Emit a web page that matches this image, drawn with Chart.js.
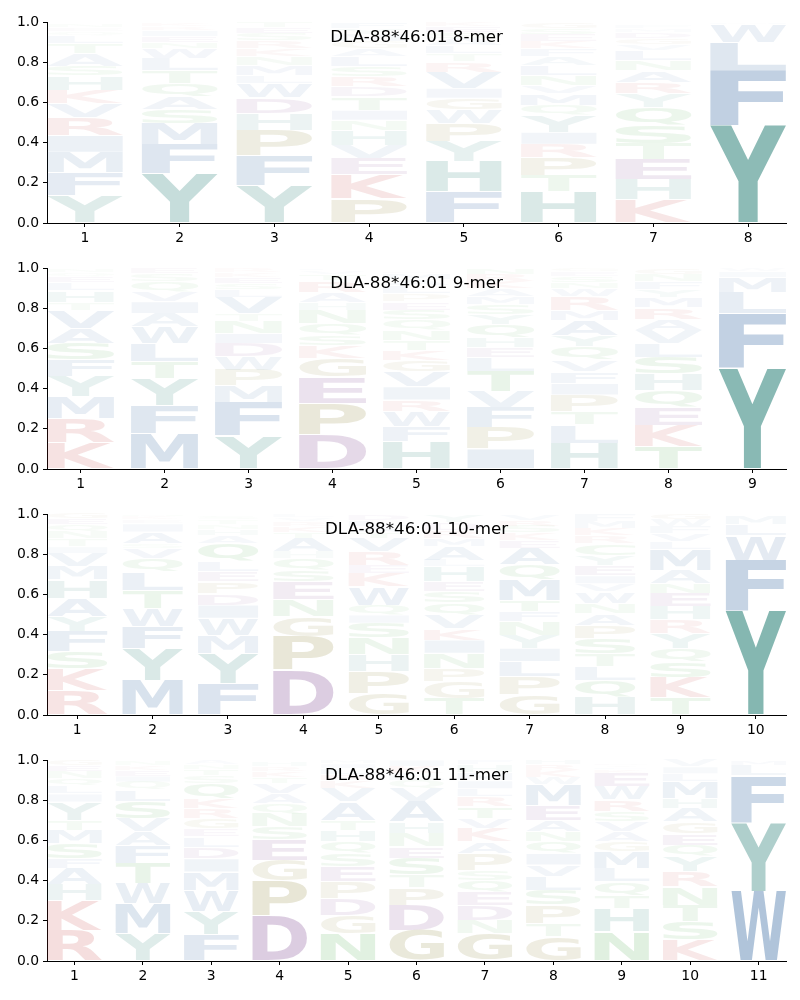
<!DOCTYPE html>
<html>
<head>
<meta charset="utf-8">
<script src="https://cdn.jsdelivr.net/npm/chart.js@4.4.0/dist/chart.umd.min.js"></script>
<style>
  body { margin: 0; background: #fff; width: 800px; height: 1000px; position: relative; overflow: hidden; }
  canvas { position: absolute; left: 0; }
</style>
</head>
<body>
<canvas id="c8" width="800" height="246" style="top:2px"></canvas>
<canvas id="c9" width="800" height="246" style="top:248px"></canvas>
<canvas id="c10" width="800" height="246" style="top:494px"></canvas>
<canvas id="c11" width="800" height="246" style="top:740px"></canvas>
<script>
// letters per position, bottom to top, with their heights (probability)
var ticks8 = [1, 2, 3, 4, 5, 6, 7, 8];
var letters8 = ['YFMIRVKHSATLQEN', 'YFMSAQTLWNEIRK', 'YFPHDWLMNKRSET', 'PKEVHNITDRSLAGMYF',
  'FHYPWGIVRTLASEK', 'HTPRIYQMVNLAFKESG', 'KHETSQYRANLVGDMF', 'YFLWM'];
var heights8 = [
  [.136, .116, .10, .083, .09, .07, .066, .07, .05, .06, .05, .04, .02, .02, .02],
  [.244, .145, .105, .07, .063, .065, .066, .06, .05, .03, .03, .03, .02, .02],
  [.186, .15, .125, .083, .078, .07, .04, .05, .045, .04, .04, .035, .03, .028],
  [.12, .12, .08, .066, .075, .05, .05, .066, .05, .05, .05, .05, .04, .035, .035, .03, .03],
  [.156, .151, .10, .09, .066, .058, .05, .08, .05, .04, .04, .035, .03, .03, .025],
  [.156, .08, .09, .066, .06, .083, .05, .058, .04, .05, .05, .045, .04, .035, .035, .03, .03],
  [.116, .1, .1, .08, .09, .09, .066, .058, .058, .05, .05, .03, .03, .03, .02, .02],
  [.485, .274, .14, .09, .01]
];

var ticks9 = [1, 2, 3, 4, 5, 6, 7, 8, 9];
var letters9 = ['KRMYFSAVTHLEQN', 'MFYTLWAIVQSE', 'YFMPWDINTVLSEKR', 'DPEGKSQNHARTVL',
  'HFWRIVGKTNQSEPLAMD', 'IPFVTLEHQYSMAKRN', 'HLTPIFVQYAMRWNSEG', 'TKEQHSLVARMYFNG', 'YFLMIW'];
var heights9 = [
  [.132, .12, .107, .1, .083, .083, .074, .09, .04, .058, .04, .03, .02, .02],
  [.175, .14, .137, .083, .09, .083, .066, .058, .05, .05, .04, .028],
  [.165, .165, .083, .079, .066, .066, .05, .06, .04, .08, .04, .03, .03, .025, .021],
  [.17, .157, .129, .094, .061, .054, .058, .066, .04, .05, .058, .03, .02, .013],
  [.137, .074, .074, .058, .066, .074, .058, .05, .05, .05, .05, .05, .04, .04, .04, .03, .03, .01],
  [.1, .107, .1, .08, .1, .066, .05, .05, .066, .05, .05, .04, .04, .035, .035, .03],
  [.129, .09, .066, .083, .058, .058, .058, .066, .058, .074, .05, .066, .04, .03, .03, .025, .02],
  [.11, .107, .09, .083, .083, .083, .066, .066, .058, .058, .05, .04, .04, .035, .03],
  [.5, .272, .107, .074, .03, .016]
];

var ticks10 = [1, 2, 3, 4, 5, 6, 7, 8, 9, 10];
var letters10 = ['RKSFYAHMVITNQEG', 'MYFWTLQVSAIEKN', 'FYMWIDPELQAHNTS', 'DPGNESQHATKRVL',
  'GPHNSIQWKERVTALD', 'TGPNIKVQSEHLAMRDY', 'GPLIYNFTMQAEKSRV', 'HQLTSPANWVIEYCRKMF',
  'TKSQYRHENAMLVFWG', 'YFWLM'];
var heights10 = [
  [.124, .108, .083, .1, .075, .091, .091, .066, .066, .033, .04, .035, .035, .03, .03],
  [.174, .157, .108, .091, .091, .091, .066, .05, .025, .058, .04, .02, .015, .011],
  [.158, .149, .091, .083, .066, .058, .058, .05, .05, .09, .04, .03, .025, .025, .02],
  [.224, .166, .1, .083, .088, .061, .058, .033, .066, .03, .03, .025, .02, .015],
  [.108, .108, .083, .083, .075, .04, .05, .091, .066, .041, .066, .066, .03, .03, .03, .03],
  [.083, .083, .066, .075, .066, .058, .066, .06, .056, .05, .075, .033, .066, .04, .04, .04, .04],
  [.1, .091, .075, .066, .066, .066, .05, .058, .1, .075, .083, .04, .035, .035, .03, .03],
  [.091, .083, .066, .066, .075, .066, .058, .05, .058, .04, .04, .05, .05, .058, .04, .035, .035, .036],
  [.086, .1, .08, .066, .075, .066, .066, .066, .05, .066, .1, .04, .04, .035, .035, .03],
  [.517, .254, .121, .058, .042]
];

var ticks11 = [1, 2, 3, 4, 5, 6, 7, 8, 9, 10, 11];
var letters11 = ['RKHAFSMTYILQNEG', 'YMWTFAVSLQIEKN', 'FYWMIDLEGRKQSTNA', 'DPGESNQAVTKRH',
  'NGDPESQHTAVKRLIM', 'GDPTSENHAVQLKI', 'GNDEQSPAKVTRLIMHF', 'GTPSLVIQNAEMWKRH',
  'NHTQLMGAVSRWEKFYD', 'KSTNRYQEGAHMLIV', 'WYFLM'];
var heights11 = [
  [.154, .146, .081, .079, .05, .075, .066, .05, .09, .04, .04, .035, .035, .03, .03],
  [.137, .149, .1, .1, .091, .066, .066, .083, .058, .04, .03, .03, .025, .025],
  [.132, .116, .104, .091, .066, .058, .05, .04, .05, .05, .05, .075, .04, .03, .025, .023],
  [.225, .172, .104, .1, .066, .066, .05, .05, .05, .03, .03, .025, .025],
  [.137, .091, .083, .083, .075, .066, .058, .058, .05, .091, .066, .04, .03, .03, .023, .02],
  [.154, .124, .086, .063, .083, .058, .066, .058, .1, .066, .04, .035, .035, .032],
  [.137, .066, .075, .066, .058, .05, .083, .058, .066, .05, .058, .05, .04, .04, .04, .04, .023],
  [.121, .066, .091, .075, .066, .058, .058, .058, .05, .058, .075, .1, .035, .035, .03, .026],
  [.146, .116, .066, .066, .066, .083, .05, .05, .05, .05, .058, .066, .066, .02, .01, .01, .01],
  [.104, .091, .083, .091, .075, .075, .058, .058, .058, .066, .05, .083, .04, .035, .035],
  [.348, .341, .232, .053, .026]
];

// residue colours (full strength, alpha comes from the height)
var colorGroups = {
  'YH': [20, 115, 105],
  'AVLIMFW': [30, 85, 150],
  'KR': [190, 40, 40],
  'PG': [120, 110, 20],
  'DE': [100, 30, 120],
  'NQSTC': [40, 150, 40]
};
function colorOf(ch, h) {
  for (var k in colorGroups) {
    if (k.indexOf(ch) >= 0) {
      var c = colorGroups[k];
      return 'rgba(' + c[0] + ',' + c[1] + ',' + c[2] + ',' + Math.min(1, h) + ')';
    }
  }
  return 'rgba(0,0,0,' + h + ')';
}

var FONT = '"DejaVu Sans", "Liberation Sans", sans-serif';
var glyphCache = {};
function glyphBox(ctx, ch) {
  if (!glyphCache[ch]) {
    ctx.font = 'bold 200px ' + FONT;
    var m = ctx.measureText(ch);
    glyphCache[ch] = { l: m.actualBoundingBoxLeft, r: m.actualBoundingBoxRight,
      a: m.actualBoundingBoxAscent, d: m.actualBoundingBoxDescent };
  }
  return glyphCache[ch];
}

// draws every floating bar as a stretched letter
var logoPlugin = {
  id: 'logo',
  afterDatasetsDraw: function(chart) {
    var ctx = chart.ctx;
    chart.data.datasets.forEach(function(ds, i) {
      var meta = chart.getDatasetMeta(i);
      meta.data.forEach(function(bar, j) {
        var pt = ds.data[j];
        var top = Math.min(bar.y, bar.base), bottom = Math.max(bar.y, bar.base);
        var h = bottom - top - 1;
        if (h <= 0.2) return;
        var w = bar.width;
        var g = glyphBox(ctx, pt.letter);
        ctx.save();
        ctx.translate(bar.x - w / 2, top + 0.5);
        ctx.scale(w / (g.l + g.r), h / (g.a + g.d));
        ctx.font = 'bold 200px ' + FONT;
        ctx.textAlign = 'left';
        ctx.textBaseline = 'alphabetic';
        ctx.fillStyle = colorOf(pt.letter, pt.h);
        ctx.fillText(pt.letter, g.l, g.a);
        ctx.restore();
      });
    });
  },
  afterDraw: function(chart) {
    var ctx = chart.ctx, a = chart.chartArea;
    ctx.save();
    ctx.font = '16.7px ' + FONT;
    ctx.fillStyle = '#000';
    ctx.textAlign = 'center';
    ctx.textBaseline = 'middle';
    ctx.fillText(chart.options.plugins.logoTitle, (a.left + a.right) / 2, a.top + 15.5);
    ctx.restore();
  }
};

function buildDatasets(ticks, letters, heights) {
  var datasets = [];
  ticks.forEach(function(pos, p) {
    var chars = letters[p].split('');
    var y0 = 0;
    chars.forEach(function(ch, k) {
      var h = heights[p][k];
      if (!datasets[k]) datasets[k] = { data: [], backgroundColor: 'rgba(0,0,0,0)', borderWidth: 0, grouped: false };
      datasets[k].data.push({ x: pos, y: [y0, y0 + h], letter: ch, h: h });
      y0 += h;
    });
  });
  return datasets;
}

function renderLogo(id, title, ticks, letters, heights) {
  var n = ticks.length;
  new Chart(document.getElementById(id), {
    type: 'bar',
    data: { datasets: buildDatasets(ticks, letters, heights) },
    options: {
      responsive: false,
      animation: false,
      events: [],
      devicePixelRatio: 1,
      categoryPercentage: 1,
      barPercentage: 0.8,
      layout: { padding: { left: 0, right: 14, top: 20, bottom: 0 } },
      plugins: { legend: { display: false }, tooltip: { enabled: false }, logoTitle: title },
      scales: {
        x: {
          type: 'linear', min: 0.6, max: n + 0.4, offset: false,
          afterBuildTicks: function(s) { s.ticks = ticks.map(function(v) { return { value: v }; }); },
          afterFit: function(s) { s.height = 25; },
          grid: { offset: false, drawOnChartArea: false, drawTicks: true, tickLength: 4, color: '#000' },
          border: { display: true, color: '#000', width: 1 },
          ticks: { color: '#000', padding: 3, maxRotation: 0, autoSkip: false,
            font: { family: FONT, size: 13.9 }, callback: function(v) { return String(v); } }
        },
        y: {
          min: 0, max: 1,
          afterFit: function(s) { s.width = 47; },
          grid: { drawOnChartArea: false, drawTicks: true, tickLength: 4, color: '#000' },
          border: { display: true, color: '#000', width: 1 },
          ticks: { color: '#000', padding: 4, stepSize: 0.2,
            font: { family: FONT, size: 13.9 }, callback: function(v) { return v.toFixed(1); } }
        }
      }
    },
    plugins: [logoPlugin]
  });
}

renderLogo('c8', 'DLA-88*46:01 8-mer', ticks8, letters8, heights8);
renderLogo('c9', 'DLA-88*46:01 9-mer', ticks9, letters9, heights9);
renderLogo('c10', 'DLA-88*46:01 10-mer', ticks10, letters10, heights10);
renderLogo('c11', 'DLA-88*46:01 11-mer', ticks11, letters11, heights11);
</script>
</body>
</html>
